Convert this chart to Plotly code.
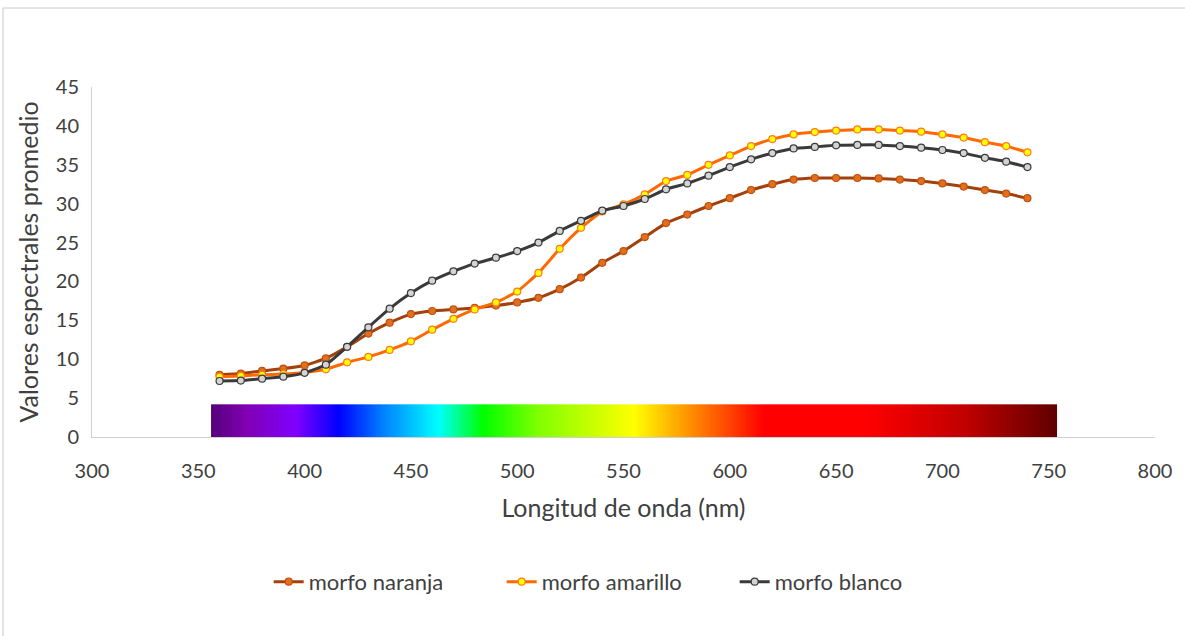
import numpy as np
import plotly.graph_objects as go

# Wavelengths (nm)
longitud = list(range(360, 750, 10))

morfo_naranja = [8.0, 8.15, 8.5, 8.8, 9.2, 10.1, 11.6, 13.3, 14.7, 15.8, 16.2,
                 16.4, 16.6, 16.9, 17.3, 17.9, 19.0, 20.5, 22.4, 23.9, 25.7,
                 27.5, 28.6, 29.7, 30.7, 31.75, 32.5, 33.1, 33.3, 33.3, 33.3,
                 33.25, 33.1, 32.9, 32.6, 32.2, 31.75, 31.3, 30.7]

morfo_amarillo = [7.75, 7.85, 8.0, 8.1, 8.3, 8.7, 9.6, 10.3, 11.2, 12.3, 13.8,
                  15.2, 16.4, 17.3, 18.7, 21.1, 24.2, 26.9, 29.0, 29.9, 31.2,
                  32.9, 33.7, 35.0, 36.2, 37.4, 38.3, 38.9, 39.2, 39.4, 39.55,
                  39.55, 39.4, 39.25, 38.9, 38.5, 37.9, 37.4, 36.6]

morfo_blanco = [7.2, 7.25, 7.5, 7.75, 8.25, 9.3, 11.6, 14.1, 16.5, 18.5, 20.1,
                21.3, 22.3, 23.05, 23.9, 25.0, 26.5, 27.8, 29.1, 29.7, 30.6,
                31.85, 32.6, 33.6, 34.7, 35.7, 36.5, 37.1, 37.3, 37.5, 37.55,
                37.55, 37.4, 37.2, 36.9, 36.5, 35.9, 35.4, 34.7]

# Visible-spectrum strip drawn along the bottom of the plot
espectro_inicio, espectro_fin, espectro_alto = 356, 754, 4.2
espectro_nm = [356, 372, 396, 416, 437, 463, 484, 510, 555, 585, 616, 664, 711, 754]
espectro_color = ["#55007a", "#8000b0", "#8000ff", "#0000ff", "#0080ff", "#00ffff",
                  "#00ff00", "#80ff00", "#ffff00", "#ff8000", "#ff0000", "#ff0000",
                  "#c00000", "#600000"]

FONT = "Lato, 'Open Sans', sans-serif"
TXT = "#404040"

fig = go.Figure()

bordes = np.linspace(espectro_inicio, espectro_fin, 400)
centros = (bordes[:-1] + bordes[1:]) / 2
span = espectro_fin - espectro_inicio
escala = [[(w - espectro_inicio) / span, c] for w, c in zip(espectro_nm, espectro_color)]
fig.add_trace(go.Heatmap(
    x=bordes, y=[0, espectro_alto], z=[centros],
    colorscale=escala, zmin=espectro_inicio, zmax=espectro_fin,
    showscale=False, hoverinfo="skip", showlegend=False,
))

series = [
    ("morfo naranja", morfo_naranja, "#a3400c", "#e0701e", "#c0500f"),
    ("morfo amarillo", morfo_amarillo, "#ff6a00", "#ffff00", "#ff7a1a"),
    ("morfo blanco", morfo_blanco, "#3a3a3a", "#d4d4d4", "#3a3a3a"),
]
for nombre, vals, linea, relleno, borde in series:
    fig.add_trace(go.Scatter(
        x=longitud, y=vals, name=nombre, mode="lines+markers",
        line=dict(color=linea, width=3, shape="spline", smoothing=0.4),
        marker=dict(size=7, color=relleno, line=dict(color=borde, width=1.2)),
    ))

fig.update_layout(
    width=1185, height=636,
    margin=dict(l=92, r=30, t=87, b=199),
    paper_bgcolor="white", plot_bgcolor="white",
    font=dict(family=FONT, color=TXT, size=20),
    legend=dict(orientation="h", x=0.495, xanchor="center", y=-0.414, yanchor="middle",
                font=dict(size=22, color=TXT), entrywidth=188, entrywidthmode="pixels",
                traceorder="normal"),
    xaxis=dict(range=[300, 800], dtick=50, tick0=300, showgrid=False, zeroline=False,
               showline=True, linecolor="#d0d0d0", linewidth=1, ticks="",
               ticklabelstandoff=16,
               tickfont=dict(size=20, color=TXT),
               title=dict(text="Longitud de onda (nm)", font=dict(size=25, color=TXT),
                          standoff=18)),
    yaxis=dict(range=[0, 45], dtick=5, showgrid=False, zeroline=False,
               showline=True, linecolor="#d0d0d0", linewidth=1, ticks="",
               ticklabelstandoff=8,
               tickfont=dict(size=20, color=TXT),
               title=dict(text="Valores espectrales promedio", font=dict(size=25, color=TXT),
                          standoff=10)),
    shapes=[
        dict(type="line", xref="paper", yref="paper",
             x0=(3 - 92) / 1063, x1=(1185 - 92) / 1063,
             y0=(437 - 8) / 350, y1=(437 - 8) / 350,
             line=dict(color="#c8c8c8", width=1)),
        dict(type="line", xref="paper", yref="paper",
             x0=(3 - 92) / 1063, x1=(3 - 92) / 1063,
             y0=(437 - 8) / 350, y1=(437 - 636) / 350,
             line=dict(color="#c8c8c8", width=1)),
    ],
)

fig.write_html("out.html")
